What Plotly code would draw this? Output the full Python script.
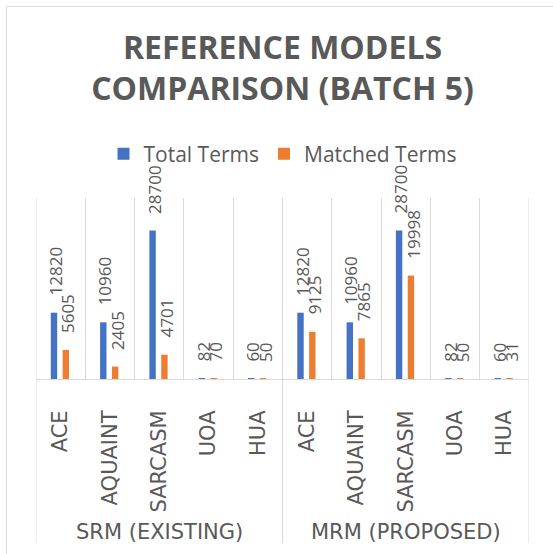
import plotly.graph_objects as go

# ---- data ----
group_names = ["SRM (EXISTING)", "MRM (PROPOSED)"]
models = ["ACE", "AQUAINT", "SARCASM", "UOA", "HUA"] * 2
total_terms = [12820, 10960, 28700, 82, 60, 12820, 10960, 28700, 82, 60]
matched_terms = [5605, 2405, 4701, 70, 50, 9125, 7865, 19998, 50, 31]
series_names = ["Total Terms", "Matched Terms"]
series_colors = ["#4472C4", "#ED7D31"]
title_text = "REFERENCE MODELS<br>COMPARISON (BATCH 5)"

GRAY = "#595959"
LINE = "#d9d9d9"

W, H = 553, 554
ML, MR, MT, MB = 36, 24, 198, 175
plot_w = W - ML - MR
plot_h = H - MT - MB

n = len(models)
per_group = n // len(group_names)
x_pos = list(range(n))

fig = go.Figure()
bar_width = 0.13
offsets = [-0.20, 0.04]
label_dx = [-0.11, 0.14]
for vals, name, col, off, dx in zip([total_terms, matched_terms], series_names,
                                    series_colors, offsets, label_dx):
    fig.add_bar(x=x_pos, y=vals, name=name, marker_color=col,
                marker_line_width=0, width=bar_width, offset=off)
    for xi, v in zip(x_pos, vals):
        fig.add_annotation(x=xi + dx, y=v, xref="x", yref="y", text=str(v),
                           textangle=-90, showarrow=False, xanchor="center",
                           yanchor="bottom", yshift=15,
                           font=dict(family="Open Sans", size=17, color=GRAY))

# group labels (outer category level)
for g, name in enumerate(group_names):
    centre = g * per_group + (per_group - 1) / 2
    fig.add_annotation(x=centre, y=-(532 - (MT + plot_h)) / plot_h,
                       xref="x", yref="paper", text=name, showarrow=False,
                       xanchor="center", yanchor="middle",
                       font=dict(family="DejaVu Sans", size=21, color=GRAY))

# chart border
fig.add_shape(type="rect", xref="paper", yref="paper",
              x0=(6.5 - ML) / plot_w, x1=1.3,
              y0=-1.5, y1=(plot_h + MT - 6.5) / plot_h,
              line=dict(color=LINE, width=1), fillcolor="rgba(0,0,0,0)",
              layer="below")
# group dividers from plot top down through the label area
for g in range(len(group_names) + 1):
    xb = g * per_group - 0.5
    fig.add_shape(type="line", xref="x", yref="paper",
                  x0=xb, x1=xb, y0=1, y1=-(543 - (MT + plot_h)) / plot_h,
                  line=dict(color=LINE, width=1), layer="below")

fig.update_layout(
    width=W, height=H,
    margin=dict(l=ML, r=MR, t=MT, b=MB, pad=0),
    paper_bgcolor="white", plot_bgcolor="white",
    barmode="overlay",
    title=dict(text=title_text, x=0.5, xref="paper", xanchor="center",
               y=1 - 58.5 / H, yref="container", yanchor="middle",
               font=dict(family="Open Sans", size=32, color=GRAY, weight="bold")),
    legend=dict(orientation="h", x=0.5, xanchor="center",
                y=1 + 44 / plot_h, yanchor="middle",
                font=dict(family="Open Sans", size=21, color=GRAY),
                traceorder="normal", bgcolor="rgba(0,0,0,0)"),
    showlegend=True,
)
fig.update_xaxes(range=[-0.5, n - 0.5], tickmode="array", tickvals=x_pos,
                 ticktext=models, showgrid=False,
                 minor=dict(tickmode="array",
                            tickvals=[i - 0.5 for i in range(n + 1)],
                            showgrid=True, gridcolor=LINE, gridwidth=1,
                            ticks=""),
                 showline=True, linecolor=LINE, ticks="", tickangle=-90,
                 ticklabelstandoff=22,
                 tickfont=dict(family="DejaVu Sans", size=21, color=GRAY),
                 automargin=False, zeroline=False, fixedrange=True)
fig.update_yaxes(range=[0, 35000], visible=False, automargin=False,
                 fixedrange=True)

fig.write_html("out.html", config={"displayModeBar": False},
               post_script="document.body.style.margin='0px';"
                           "document.documentElement.style.overflow='hidden';")
